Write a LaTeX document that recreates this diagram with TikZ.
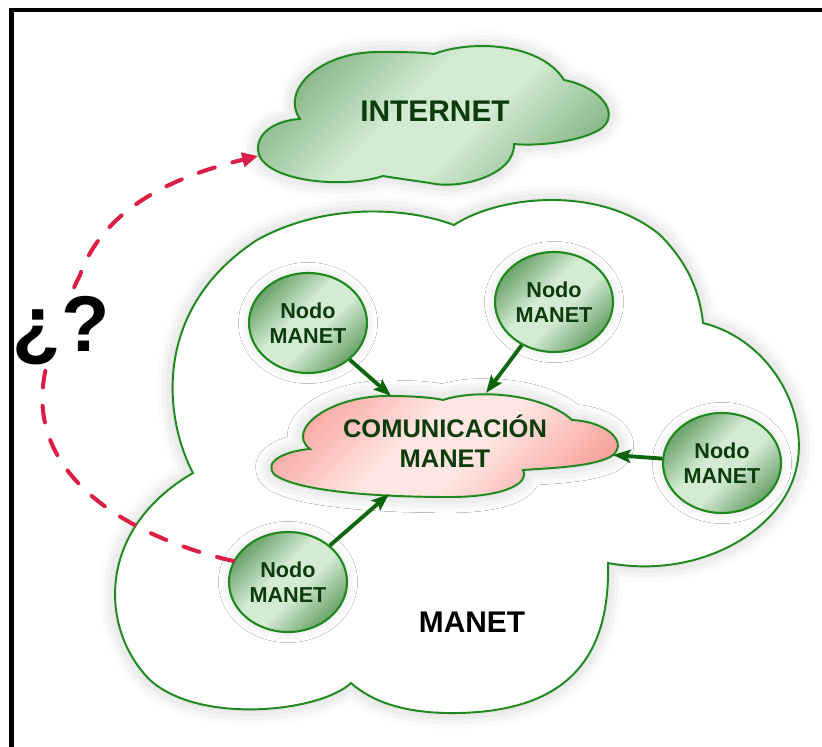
\documentclass[tikz,border=0pt]{standalone}
\usepackage{fontspec}
\setmainfont{Liberation Sans}
\usetikzlibrary{shapes.geometric,arrows.meta,shadows.blur}

\definecolor{edgegreen}{HTML}{1E8A1E}
\definecolor{textgreen}{HTML}{0C3C0C}
\definecolor{arrowgreen}{HTML}{0B660B}
\definecolor{nododark}{HTML}{669E66}
\definecolor{inetdark}{HTML}{82B282}
\definecolor{glight}{HTML}{D3EBD3}
\definecolor{pinkdark}{HTML}{F8A29D}
\definecolor{pinklight}{HTML}{FFE6E2}
\definecolor{dashred}{HTML}{DC1E46}

\pgfdeclarehorizontalshading{nodoshade}{100bp}{color(0bp)=(nododark); color(24bp)=(nododark); color(44bp)=(glight); color(56bp)=(glight); color(76bp)=(nododark); color(100bp)=(nododark)}
\pgfdeclarehorizontalshading{inetshade}{100bp}{color(0bp)=(inetdark); color(24bp)=(inetdark); color(44bp)=(glight); color(56bp)=(glight); color(76bp)=(inetdark); color(100bp)=(inetdark)}
\pgfdeclarehorizontalshading{pinkshade}{100bp}{color(0bp)=(pinkdark); color(24bp)=(pinkdark); color(44bp)=(pinklight); color(56bp)=(pinklight); color(76bp)=(pinkdark); color(100bp)=(pinkdark)}

\begin{document}
\begin{tikzpicture}[x=0.2mm, y=-0.2mm,
	glow/.style={blur shadow={shadow xshift=0pt, shadow yshift=0pt, shadow blur radius=9pt, shadow opacity=22}},
	softglow/.style={blur shadow={shadow xshift=0pt, shadow yshift=0pt, shadow blur radius=6pt, shadow opacity=12}},
	cloudline/.style={draw=edgegreen, line width=1.1pt},
	nodo/.style={ellipse, draw=edgegreen, line width=1.2pt, shade, shading=nodoshade, shading angle=-45,
		minimum width=23.6mm, minimum height=20mm, inner sep=0pt, align=center,
		text=textgreen, font=\bfseries\fontsize{12.3}{14.2}\selectfont, softglow},
	label/.style={font=\bfseries\fontsize{17}{20}\selectfont},
	link/.style={arrowgreen, line width=2.2pt, -{Stealth[length=10pt,width=7.5pt,inset=2pt]}},
	dashlink/.style={dashred, line width=2.3pt, line cap=round, dash pattern=on 9.5pt off 10.5pt,
		-{Triangle[length=9pt,width=8pt]}}]

	\useasboundingbox (0,0) rectangle (822,747);
	\clip (0,0) rectangle (822,747);

	% MANET cloud
	\path [cloudline, fill=white, glow] (193,473)
		.. controls (165,420) and (150,310) .. (257,240)
		.. controls (320,205) and (400,205) .. (454,225)
		.. controls (500,195) and (600,185) .. (660,235)
		.. controls (690,265) and (700,295) .. (703,323)
		.. controls (770,340) and (808,410) .. (797,465)
		.. controls (785,530) and (700,580) .. (608,563)
		.. controls (610,650) and (575,715) .. (446,713)
		.. controls (400,712) and (370,700) .. (351,683)
		.. controls (320,712) and (200,725) .. (150,680)
		.. controls (100,630) and (95,530) .. cycle;
	\node [label] (manet) at (472,622) {MANET};

	% INTERNET cloud
	\path [cloudline, shade, shading=inetshade, shading angle=-45, glow] (300,119)
		.. controls (280,90) and (320,52) .. (378,52)
		.. controls (400,52) and (420,52) .. (434,54)
		.. controls (470,40) and (540,42) .. (564,80)
		.. controls (605,88) and (625,120) .. (593,133)
		.. controls (570,143) and (535,146) .. (514,144)
		.. controls (515,175) and (460,190) .. (430,183)
		.. controls (410,180) and (395,178) .. (383,176)
		.. controls (340,190) and (260,180) .. (258,150)
		.. controls (257,130) and (280,120) .. cycle;
	\node [label, text=textgreen] (inet) at (435,111) {INTERNET};
	\coordinate (inetw) at (258,156);

	% comunicacion cloud
	\path [cloudline, shade, shading=pinkshade, shading angle=-45, glow] (310,449)
		.. controls (285,430) and (330,395) .. (390,396)
		.. controls (415,396) and (435,398) .. (443,400)
		.. controls (480,388) and (545,395) .. (572,420)
		.. controls (610,422) and (630,445) .. (610,457)
		.. controls (590,467) and (550,468) .. (523,470)
		.. controls (530,485) and (500,497) .. (450,497)
		.. controls (380,497) and (300,492) .. (275,475)
		.. controls (262,462) and (285,451) .. cycle;
	\node [align=center, text=textgreen, font=\bfseries\fontsize{14.5}{17}\selectfont]
		(comm) at (445,441) {COMUNICACIÓN\\MANET};
	\coordinate (t1) at (391,396);
	\coordinate (t2) at (486,393);
	\coordinate (t3) at (613,455);
	\coordinate (t4) at (389,494);

	\node [nodo] (n1) at (308,323) {Nodo\\MANET};
	\node [nodo] (n2) at (554,302) {Nodo\\MANET};
	\node [nodo] (n3) at (722,463) {Nodo\\MANET};
	\node [nodo] (n4) at (288,582) {Nodo\\MANET};

	\draw [link] (n1) -- (t1);
	\draw [link] (n2) -- (t2);
	\draw [link] (n3) -- (t3);
	\draw [link] (n4) -- (t4);

	% camino hacia internet
	\draw [dashlink] (n4.159)
		.. controls (140,540) and (20,480) .. (46,368)
		.. controls (55,330) and (70,295) .. (80,275)
		.. controls (105,205) and (180,175) .. (inetw);
	\node [fill=white, inner sep=0pt, anchor=base, font=\bfseries\fontsize{45}{50}\selectfont]
		(q) at (61,351) {¿?};

	\draw [line width=2.3pt] (11.5,10) rectangle (830,760);
\end{tikzpicture}
\end{document}
